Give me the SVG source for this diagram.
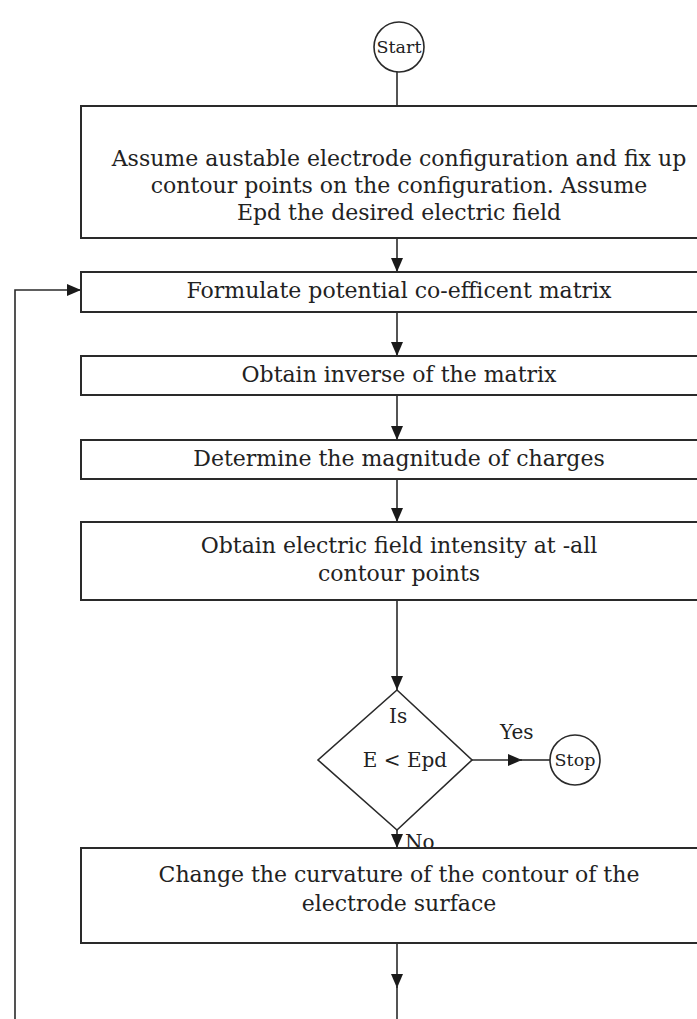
<svg xmlns="http://www.w3.org/2000/svg" width="697" height="1019" viewBox="0 0 697 1019">
<defs>
<style>
.box{fill:#fff;stroke:#2a2a2a;stroke-width:2}
.term{fill:#fff;stroke:#2a2a2a;stroke-width:1.6}
.t{font-family:"DejaVu Serif","Liberation Serif",serif;font-size:22px;fill:#222;text-anchor:middle}
.ts{font-family:"DejaVu Serif","Liberation Serif",serif;font-size:17.5px;fill:#222;text-anchor:middle}
.tl{font-family:"DejaVu Serif","Liberation Serif",serif;font-size:20px;fill:#222}
.ln{fill:none;stroke:#2a2a2a;stroke-width:1.6}
</style>
<marker id="ah" markerUnits="userSpaceOnUse" markerWidth="14" markerHeight="12" refX="14" refY="6" orient="auto">
<path d="M0,0 L14,6 L0,12 Z" fill="#1a1a1a"/>
</marker>
</defs>
<rect width="697" height="1019" fill="#fff"/>
<g id="connectors">
<line class="ln" x1="397" y1="72" x2="397" y2="106"/>
<line class="ln" x1="397" y1="238" x2="397" y2="272" marker-end="url(#ah)"/>
<line class="ln" x1="397" y1="312" x2="397" y2="356" marker-end="url(#ah)"/>
<line class="ln" x1="397" y1="395" x2="397" y2="440" marker-end="url(#ah)"/>
<line class="ln" x1="397" y1="479" x2="397" y2="522" marker-end="url(#ah)"/>
<line class="ln" x1="397" y1="600" x2="397" y2="690" marker-end="url(#ah)"/>
<line class="ln" x1="397" y1="830" x2="397" y2="848" marker-end="url(#ah)"/>
<line class="ln" x1="397" y1="943" x2="397" y2="988" marker-end="url(#ah)"/>
<line class="ln" x1="397" y1="985" x2="397" y2="1019"/>
<line class="ln" x1="472" y1="760" x2="522" y2="760" marker-end="url(#ah)"/>
<line class="ln" x1="518" y1="760" x2="550" y2="760"/>
<polyline class="ln" points="15,1019 15,290 81,290" marker-end="url(#ah)"/>
<text class="tl" x="500" y="739">Yes</text>
<text class="tl" x="405" y="849">No</text>
</g>
<g id="start">
<circle class="term" cx="399" cy="47" r="25"/>
<text class="ts" x="399" y="53">Start</text>
</g>
<g id="assume">
<rect class="box" x="81" y="106" width="640" height="132"/>
<text class="t" x="399" y="166">Assume austable electrode configuration and fix up</text>
<text class="t" x="399" y="193">contour points on the configuration. Assume</text>
<text class="t" x="399" y="220">Epd the desired electric field</text>
</g>
<g id="formulate">
<rect class="box" x="81" y="272" width="640" height="40"/>
<text class="t" x="399" y="298">Formulate potential co-efficent matrix</text>
</g>
<g id="inverse">
<rect class="box" x="81" y="356" width="640" height="39"/>
<text class="t" x="399" y="382">Obtain inverse of the matrix</text>
</g>
<g id="charges">
<rect class="box" x="81" y="440" width="640" height="39"/>
<text class="t" x="399" y="466">Determine the magnitude of charges</text>
</g>
<g id="field">
<rect class="box" x="81" y="522" width="640" height="78"/>
<text class="t" x="399" y="553">Obtain electric field intensity at -all</text>
<text class="t" x="399" y="581">contour points</text>
</g>
<g id="decision">
<polygon class="term" points="397,690 472,760 397,830 318,760"/>
<text class="tl" x="389" y="723">Is</text>
<text class="tl" x="405" y="767" text-anchor="middle">E &lt; Epd</text>
</g>
<g id="stop">
<circle class="term" cx="575" cy="760" r="25"/>
<text class="ts" x="575" y="766">Stop</text>
</g>
<g id="change">
<rect class="box" x="81" y="848" width="640" height="95"/>
<text class="t" x="399" y="882">Change the curvature of the contour of the</text>
<text class="t" x="399" y="911">electrode surface</text>
</g>
</svg>
